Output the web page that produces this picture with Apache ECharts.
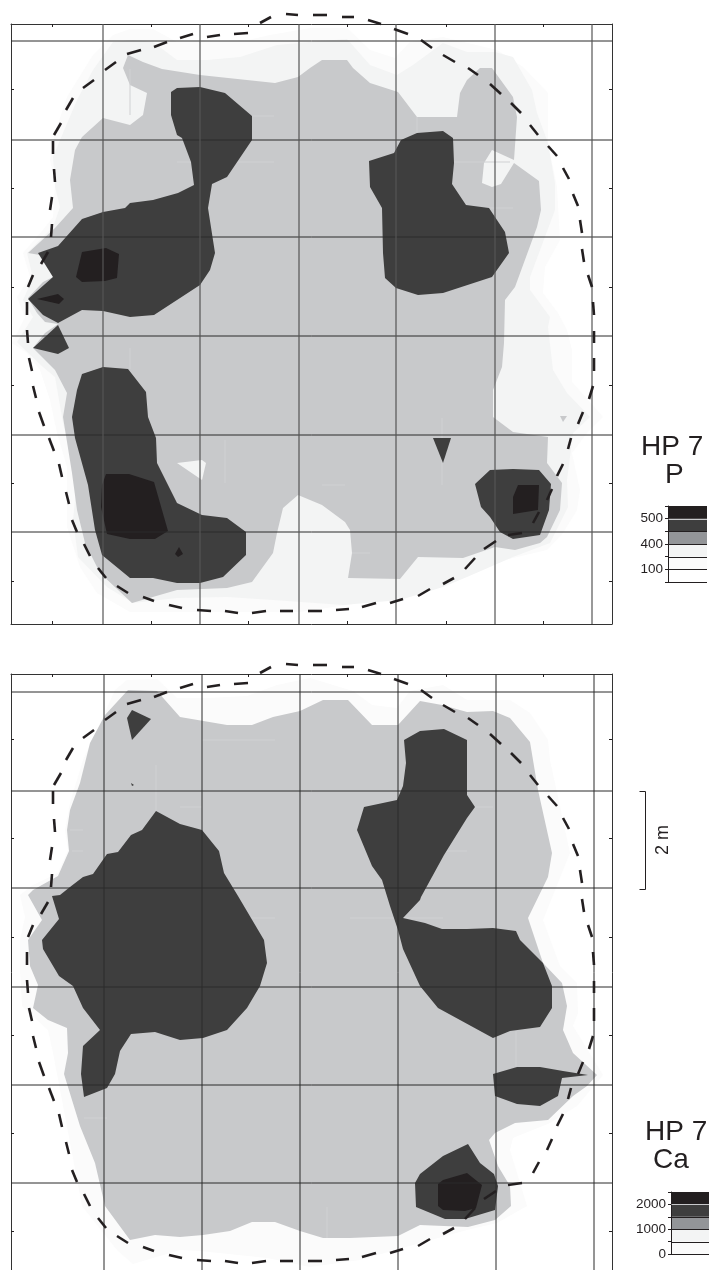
<!DOCTYPE html>
<html>
<head>
<meta charset="utf-8">
<title>HP 7</title>
<style>
  html, body { margin: 0; padding: 0; background: #fff; }
  #chart { width: 709px; height: 1270px; }
</style>
<script src="https://cdn.jsdelivr.net/npm/echarts@6/dist/echarts.min.js"></script>
</head>
<body>
<div id="chart"></div>
<script>
// map coordinates: both panels share the same x/y scale
const gridXP = [103, 200, 299, 396, 495, 592];
const gridYP = [41, 140, 237, 336, 435, 532];
const gridXCa = [104, 202, 300, 398, 496, 594];
const gridYCa = [42, 141, 238, 337, 435, 533];
const tickX = [52, 151, 248, 347, 446, 543];
const tickY = [89, 188, 287, 385, 483, 581];

// dashed outline of the house, one pair of points per dash
const outlineDashes = [
  [[260,23],[271,17]], [[286,14],[298,15]], [[313,15],[327,15]], [[342,17],[354,17]], [[368,20],[381,24]],
  [[394,29],[408,34]], [[421,40],[432,48]], [[443,55],[455,62]], [[468,68],[478,75]], [[490,84],[501,94]],
  [[511,103],[521,113]], [[530,125],[538,135]], [[548,146],[557,156]], [[563,168],[569,179]], [[573,194],[578,206]],
  [[580,220],[582,233]], [[582,249],[584,262]], [[588,275],[592,287]], [[593,302],[594,315]], [[594,331],[594,343]],
  [[594,358],[594,371]], [[593,386],[589,399]], [[583,412],[578,424]], [[571,438],[568,449]], [[563,464],[557,476]],
  [[552,489],[547,500]], [[539,512],[533,523]], [[522,533],[508,535]], [[496,541],[484,549]], [[475,558],[465,569]],
  [[454,578],[443,584]], [[430,589],[418,596]], [[403,599],[390,603]], [[376,603],[362,607]], [[349,609],[336,610]],
  [[322,611],[308,611]], [[293,611],[280,611]], [[266,611],[252,613]], [[238,613],[225,611]], [[211,611],[197,610]],
  [[182,608],[169,605]], [[154,601],[143,597]], [[128,593],[117,586]], [[106,578],[98,568]], [[90,556],[84,544]],
  [[77,532],[72,520]], [[69,504],[66,492]], [[62,477],[59,464]], [[54,451],[49,438]], [[44,426],[39,412]],
  [[36,398],[33,386]], [[32,371],[29,358]], [[28,343],[27,330]], [[27,315],[27,302]], [[28,287],[33,275]],
  [[41,264],[48,252]], [[51,237],[52,224]], [[50,210],[52,197]], [[55,182],[54,169]], [[53,154],[53,141]],
  [[54,135],[61,123]], [[66,110],[73,98]], [[83,88],[94,80]], [[105,70],[116,62]], [[127,54],[141,50]],
  [[154,47],[167,42]], [[180,38],[193,34]], [[207,37],[220,35]], [[234,34],[248,33]]
];

// P panel contours
const pLevel1 = [[88,63],[67,97],[55,133],[50,160],[55,183],[53,217],[43,230],[23,253],[30,277],[17,297],[25,317],[12,343],[27,353],[40,370],[50,400],[57,433],[67,467],[67,527],[80,567],[97,593],[130,612],[200,612],[300,612],[400,597],[443,582],[477,567],[513,558],[547,550],[563,533],[577,510],[580,490],[572,453],[587,433],[603,417],[588,400],[572,382],[572,350],[567,330],[558,313],[543,293],[545,267],[560,240],[557,187],[548,143],[548,93],[523,67],[497,50],[443,37],[410,42],[395,58],[370,50],[347,28],[310,28],[270,35],[248,40],[200,42],[177,42],[153,29],[130,29],[113,35],[93,55]];
const pLevel2 = [[113,42],[133,40],[153,42],[177,60],[207,60],[240,57],[277,45],[320,41],[347,39],[370,65],[397,75],[413,65],[443,43],[467,52],[495,52],[513,57],[532,90],[537,113],[548,143],[555,183],[555,210],[530,277],[530,290],[550,317],[548,327],[553,370],[567,393],[590,417],[573,433],[570,457],[567,480],[568,507],[550,543],[513,557],[467,577],[443,587],[400,600],[343,605],[273,600],[227,597],[177,598],[133,603],[107,587],[78,557],[73,520],[77,480],[63,423],[55,377],[43,367],[22,347],[17,342],[33,317],[23,300],[33,278],[27,253],[40,240],[53,227],[60,207],[55,187],[53,157],[63,133],[77,100],[93,70]];
const pLevel3 = [[28,253],[40,242],[55,228],[73,208],[70,180],[75,150],[82,137],[103,118],[130,125],[143,115],[147,93],[130,85],[123,68],[128,55],[143,62],[162,69],[200,75],[275,83],[298,77],[310,68],[322,60],[347,60],[353,68],[370,83],[398,92],[417,117],[457,117],[460,93],[467,80],[480,68],[492,68],[513,97],[517,117],[514,160],[492,150],[484,163],[482,183],[492,187],[501,184],[514,163],[539,181],[541,210],[537,227],[515,287],[505,300],[504,343],[502,367],[493,390],[493,417],[513,432],[548,437],[547,463],[562,483],[560,510],[547,537],[540,543],[515,550],[495,547],[463,558],[418,557],[400,579],[348,578],[352,553],[350,530],[345,522],[322,505],[310,500],[298,495],[283,508],[277,533],[273,553],[252,582],[227,588],[177,590],[132,603],[100,573],[85,543],[77,510],[72,473],[63,417],[67,393],[55,370],[33,348],[45,333],[58,324],[45,322],[37,313],[28,298],[43,282],[53,277],[40,255]];
const pLevel3Hole = [[177,463],[202,460],[206,463],[202,480]];
const pLevel3Speck = [[560,416],[567,416],[563,422]];
const pLevel4West = [[38,253],[58,246],[82,219],[103,212],[125,208],[130,203],[153,200],[178,193],[194,185],[191,162],[182,138],[177,135],[171,115],[171,92],[177,88],[200,87],[225,93],[252,116],[252,140],[227,177],[212,184],[208,208],[215,253],[210,270],[200,285],[154,315],[130,317],[103,311],[82,310],[58,323],[43,315],[28,299],[53,277]];
const pLevel4Wedge = [[58,325],[69,348],[58,354],[33,348]];
const pLevel4South = [[82,374],[103,367],[128,369],[146,392],[148,417],[156,438],[157,463],[177,503],[202,515],[227,518],[246,532],[246,555],[223,577],[200,583],[177,583],[153,578],[130,578],[102,555],[95,530],[88,485],[75,438],[72,417],[77,390]];
const pLevel4East = [[369,161],[394,153],[401,140],[417,133],[443,131],[453,138],[454,163],[452,184],[466,205],[489,208],[505,232],[509,253],[492,277],[443,293],[418,295],[396,288],[385,278],[383,253],[382,208],[370,187]];
const pLevel4Spike = [[433,438],[451,438],[443,463]];
const pLevel4Corner = [[490,470],[513,469],[539,470],[551,484],[549,510],[540,535],[513,539],[500,532],[490,517],[481,507],[475,484]];
const pLevel5A = [[82,252],[106,248],[119,254],[117,278],[105,281],[82,282],[76,277]];
const pLevel5B = [[37,299],[58,294],[64,299],[59,304]];
const pLevel5C = [[106,474],[129,474],[154,482],[168,531],[155,539],[130,539],[107,534],[101,507],[102,485]];
const pLevel5D = [[179,547],[183,554],[178,557],[175,554]];
const pLevel5E = [[518,485],[539,485],[538,510],[513,514],[513,497]];

// Ca panel contours
const caLevel1 = [[127,30],[157,29],[177,48],[207,48],[247,46],[277,35],[310,28],[353,41],[372,55],[397,58],[410,41],[443,35],[467,50],[510,50],[530,63],[548,90],[550,110],[570,203],[543,270],[560,316],[577,333],[578,363],[573,376],[603,425],[577,456],[550,473],[513,488],[510,500],[527,556],[497,573],[467,580],[420,593],[360,610],[310,617],[267,608],[200,601],[180,600],[133,614],[117,600],[82,556],[65,466],[53,403],[48,380],[22,356],[20,320],[20,290],[25,267],[20,245],[33,235],[58,223],[68,200],[65,180],[70,153],[83,110],[97,80],[115,40]];
const caLevel3 = [[28,245],[33,240],[58,226],[69,201],[67,180],[70,160],[80,133],[90,93],[105,65],[128,40],[157,41],[180,67],[227,75],[252,75],[273,67],[300,61],[323,50],[348,50],[372,75],[398,75],[420,51],[442,55],[467,62],[493,61],[510,68],[530,92],[538,140],[552,203],[548,227],[528,268],[543,313],[562,333],[567,356],[563,380],[573,403],[597,425],[587,436],[573,446],[548,470],[515,473],[495,483],[489,490],[498,516],[510,536],[511,556],[495,570],[468,577],[420,575],[398,586],[350,588],[323,588],[300,581],[275,572],[252,572],[230,581],[203,585],[180,587],[155,585],[130,590],[105,556],[95,513],[80,476],[64,424],[68,403],[67,378],[48,370],[33,358],[38,335],[30,316],[28,290],[42,270]];
const caLevel4West = [[156,161],[180,174],[202,180],[219,201],[224,223],[238,246],[251,268],[264,290],[267,313],[260,336],[247,358],[227,380],[203,388],[180,390],[155,382],[131,384],[120,401],[115,424],[107,438],[84,447],[81,424],[83,396],[100,380],[83,358],[73,336],[59,326],[43,299],[42,290],[59,269],[52,246],[60,245],[70,237],[83,227],[93,224],[107,204],[118,202],[131,185],[142,180]];
const caLevel4North = [[132,60],[151,69],[132,90],[127,68]];
const caLevel4Speck = [[131,133],[134,135],[132,136]];
const caLevel4East = [[404,90],[420,81],[444,79],[467,90],[467,145],[475,157],[467,168],[444,205],[421,247],[420,250],[403,268],[425,273],[442,279],[467,279],[493,278],[516,281],[520,290],[543,313],[552,336],[552,358],[540,377],[510,381],[493,388],[438,358],[420,336],[403,299],[398,280],[390,256],[382,230],[372,216],[357,180],[364,157],[397,150],[403,136],[406,113]];
const caLevel4Spike = [[493,424],[517,417],[540,417],[563,421],[588,425],[562,428],[558,446],[540,456],[517,454],[495,446]];
const caLevel4South = [[468,494],[480,513],[494,524],[498,536],[495,560],[465,569],[445,569],[416,557],[415,533],[420,524],[443,506]];
const caLevel5 = [[443,530],[467,523],[482,535],[476,558],[465,561],[443,560],[438,556],[438,534]];

// faint interpolation grid fragments showing through the fill
const pFaintLines = [
  [[177,162],[274,162]], [[203,116],[274,116]], [[225,93],[225,116]], [[130,69],[130,115]], [[130,208],[153,208]],
  [[417,117],[417,133]], [[446,162],[510,162]], [[485,208],[513,208]], [[130,348],[130,369]], [[225,440],[225,483]],
  [[442,418],[442,485]], [[322,485],[345,485]], [[352,553],[370,553]]
];
const caFaintLines = [
  [[156,115],[156,161]], [[180,157],[202,157]], [[202,90],[275,90]], [[70,180],[83,180]], [[72,201],[83,201]],
  [[229,268],[275,268]], [[420,90],[420,113]], [[467,157],[493,157]], [[445,201],[467,201]], [[350,268],[443,268]],
  [[516,381],[516,417]], [[327,557],[327,588]], [[84,468],[107,468]]
];

// legend bands, lowest first, and the labels at their edges
const pLegendBands = ['#ffffff', '#fbfbfb', '#f3f4f4', '#939598', '#3e3e3e', '#231f20'];
const pLegendLabels = ['', '100', '', '400', '', '500', ''];
const caLegendBands = ['#fbfbfb', '#f3f4f4', '#939598', '#3e3e3e', '#231f20'];
const caLegendLabels = ['0', '', '1000', '', '2000', ''];

const FONT = '"Liberation Sans", Arial, sans-serif';
const INK = '#231f20';
const C1 = '#fbfbfb', C2 = '#f3f4f4', C3 = '#c8c9cb', C4 = '#3e3e3e', C5 = '#231f20';

const chart = echarts.init(document.getElementById('chart'), null, { renderer: 'canvas' });

function polygon(points, color, panel) {
  return {
    type: 'custom',
    xAxisIndex: panel * 2,
    yAxisIndex: panel * 2,
    silent: true,
    animation: false,
    data: [points[0]],
    renderItem: function (params, api) {
      return {
        type: 'polygon',
        shape: { points: points.map(p => api.coord(p)) },
        style: { fill: color, stroke: null }
      };
    }
  };
}

function segments(list, panel, style) {
  return {
    type: 'custom',
    xAxisIndex: panel * 2,
    yAxisIndex: panel * 2,
    silent: true,
    animation: false,
    data: list.map(s => s[0]),
    renderItem: function (params, api) {
      const s = list[params.dataIndex];
      return {
        type: 'line',
        shape: {
          x1: api.coord(s[0])[0], y1: api.coord(s[0])[1],
          x2: api.coord(s[1])[0], y2: api.coord(s[1])[1]
        },
        style: style
      };
    }
  };
}

function gridLines(xs, ys, panel, xStyle, yStyle) {
  const vertical = xs.map(x => [[x, 24], [x, 624]]);
  const horizontal = ys.map(y => [[11, y], [612, y]]);
  return [segments(horizontal, panel, yStyle), segments(vertical, panel, xStyle)];
}

function legendBands(bands, axisIndex) {
  const crisp = v => Math.round(v) + 0.5;
  return {
    type: 'custom',
    xAxisIndex: axisIndex,
    yAxisIndex: axisIndex,
    silent: true,
    animation: false,
    data: bands.map((c, i) => [0, i]),
    renderItem: function (params, api) {
      const i = params.dataIndex;
      const a = api.coord([0, i]);
      const b = api.coord([1, i + 1]);
      const top = i === bands.length - 1;
      const lowY = crisp(a[1]), highY = crisp(b[1]), leftX = crisp(a[0]);
      return {
        type: 'group',
        children: [
          { type: 'rect', shape: { x: a[0], y: b[1], width: b[0] - a[0], height: a[1] - b[1] }, style: { fill: bands[i] } },
          { type: 'line', shape: { x1: a[0], y1: lowY, x2: b[0], y2: lowY }, style: { stroke: top ? '#c8c9cb' : INK, lineWidth: 1 } },
          { type: 'line', shape: { x1: a[0], y1: highY, x2: b[0], y2: highY }, style: { stroke: top ? INK : 'transparent', lineWidth: 1 } },
          { type: 'line', shape: { x1: leftX, y1: lowY, x2: leftX, y2: highY }, style: { stroke: INK, lineWidth: 1 } }
        ]
      };
    }
  };
}

function frameAxis(gridIndex, position, values, min, max, inverse) {
  return {
    type: 'value',
    gridIndex: gridIndex,
    position: position,
    min: min,
    max: max,
    inverse: inverse,
    splitLine: { show: false },
    axisLabel: { show: false },
    axisLine: { show: true, onZero: false, lineStyle: { color: '#333', width: 1 } },
    axisTick: { show: true, inside: true, length: 3, customValues: values, lineStyle: { color: INK, width: 1 } }
  };
}

function legendAxisY(gridIndex, max, labels) {
  return {
    type: 'value',
    gridIndex: gridIndex,
    min: 0,
    max: max,
    interval: 1,
    splitLine: { show: false },
    axisLine: { show: true, onZero: false, lineStyle: { color: INK, width: 1 } },
    axisTick: { show: true, length: 3, lineStyle: { color: INK, width: 1 } },
    axisLabel: {
      show: true, margin: 5, fontFamily: FONT, fontSize: 13.5, color: INK,
      formatter: v => labels[v]
    }
  };
}

const legendX = gridIndex => ({ type: 'value', gridIndex: gridIndex, min: 0, max: 1, show: false });

const faint = { stroke: '#d0d1d3', lineWidth: 1 };
const dash = { stroke: INK, lineWidth: 2.6 };

chart.setOption({
  animation: false,
  backgroundColor: '#ffffff',
  textStyle: { fontFamily: FONT },
  grid: [
    { left: 11, top: 24, width: 601, height: 600, outerBoundsMode: 'none' },
    { left: 11, top: 674, width: 601, height: 600, outerBoundsMode: 'none' },
    { left: 668, top: 506, width: 39, height: 76, outerBoundsMode: 'none' },
    { left: 671, top: 1192, width: 38, height: 62, outerBoundsMode: 'none' }
  ],
  xAxis: [
    frameAxis(0, 'bottom', tickX, 11, 612, false),
    frameAxis(0, 'top', tickX, 11, 612, false),
    frameAxis(1, 'bottom', tickX, 11, 612, false),
    frameAxis(1, 'top', tickX, 11, 612, false),
    legendX(2),
    legendX(3)
  ],
  yAxis: [
    frameAxis(0, 'left', tickY, 24, 624, true),
    frameAxis(0, 'right', tickY, 24, 624, true),
    frameAxis(1, 'left', tickY, 24, 624, true),
    frameAxis(1, 'right', tickY, 24, 624, true),
    legendAxisY(2, 6, pLegendLabels),
    legendAxisY(3, 5, caLegendLabels)
  ],
  series: [
    polygon(pLevel1, C1, 0),
    polygon(pLevel2, C2, 0),
    polygon(pLevel3, C3, 0),
    polygon(pLevel3Hole, C2, 0),
    polygon(pLevel3Speck, C3, 0),
    segments(pFaintLines, 0, faint),
    polygon(pLevel4West, C4, 0),
    polygon(pLevel4Wedge, C4, 0),
    polygon(pLevel4South, C4, 0),
    polygon(pLevel4East, C4, 0),
    polygon(pLevel4Spike, C4, 0),
    polygon(pLevel4Corner, C4, 0),
    polygon(pLevel5A, C5, 0),
    polygon(pLevel5B, C5, 0),
    polygon(pLevel5C, C5, 0),
    polygon(pLevel5D, C5, 0),
    polygon(pLevel5E, C5, 0),
    ...gridLines(gridXP, gridYP, 0, { stroke: '#555', lineWidth: 1.2 }, { stroke: '#2a2a2a', lineWidth: 1 }),
    segments(outlineDashes, 0, dash),

    polygon(caLevel1, C1, 1),
    polygon(caLevel3, C3, 1),
    segments(caFaintLines, 1, faint),
    polygon(caLevel4West, C4, 1),
    polygon(caLevel4North, C4, 1),
    polygon(caLevel4Speck, C4, 1),
    polygon(caLevel4East, C4, 1),
    polygon(caLevel4Spike, C4, 1),
    polygon(caLevel4South, C4, 1),
    polygon(caLevel5, C5, 1),
    ...gridLines(gridXCa, gridYCa, 1, { stroke: '#2a2a2a', lineWidth: 1 }, { stroke: '#2a2a2a', lineWidth: 1 }),
    segments(outlineDashes, 1, dash),

    legendBands(pLegendBands, 4),
    legendBands(caLegendBands, 5)
  ],
  graphic: [
    { type: 'text', left: 641, top: 433, style: { text: 'HP 7', font: '28px ' + FONT, fill: INK } },
    { type: 'text', left: 665, top: 461, style: { text: 'P', font: '28px ' + FONT, fill: INK } },
    { type: 'text', left: 645, top: 1118, style: { text: 'HP 7', font: '28px ' + FONT, fill: INK } },
    { type: 'text', left: 653, top: 1146, style: { text: 'Ca', font: '28px ' + FONT, fill: INK } },
    {
      type: 'polyline',
      shape: { points: [[639.5, 791.5], [645.5, 791.5], [645.5, 889.5], [639.5, 889.5]] },
      style: { stroke: INK, lineWidth: 1, fill: null }
    },
    {
      type: 'text', x: 663, y: 840, rotation: Math.PI / 2,
      style: { text: '2 m', font: '18px ' + FONT, fill: INK, align: 'center', verticalAlign: 'middle' }
    }
  ]
});
</script>
</body>
</html>
